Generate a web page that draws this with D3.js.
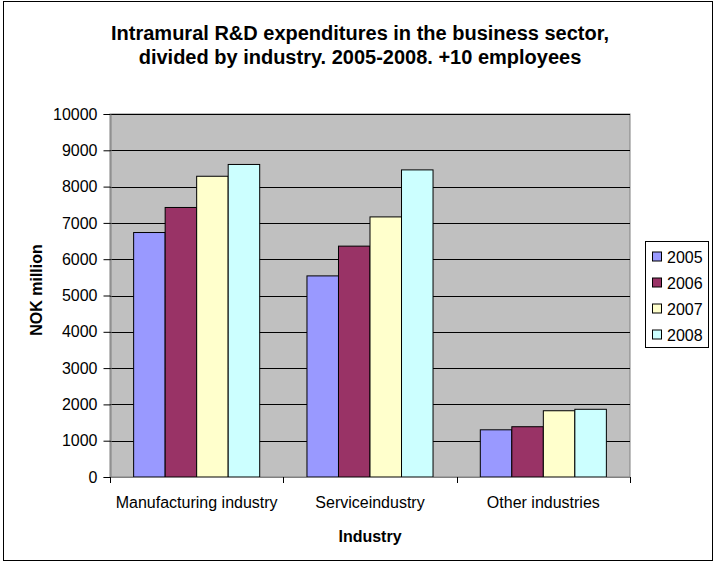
<!DOCTYPE html>
<html><head><meta charset="utf-8">
<script src="https://cdn.jsdelivr.net/npm/d3@7"></script>
<style>body{margin:0;background:#fff;}svg{display:block;font-family:"Liberation Sans",Arial,sans-serif;}</style>
</head><body>
<svg id="c" width="715" height="563"></svg>
<script>
const categories = ["Manufacturing industry", "Serviceindustry", "Other industries"];
const years = ["2005", "2006", "2007", "2008"];
const v2005 = [6735, 5540, 1300];
const v2006 = [7425, 6360, 1385];
const v2007 = [8285, 7165, 1825];
const v2008 = [8610, 8460, 1865];
const yTicks = [0,1000,2000,3000,4000,5000,6000,7000,8000,9000,10000];
const colors = ["#9999FF", "#993366", "#FFFFCC", "#CCFFFF"];
const series = [v2005, v2006, v2007, v2008];

const svg = d3.select("#c");
svg.append("rect").attr("x",3.5).attr("y",1.5).attr("width",709).attr("height",559)
  .attr("fill","#fff").attr("stroke","#000").attr("stroke-width",1);

const L=110, R=630, T=114, B=477;
const x0 = d3.scaleBand().domain(categories).range([L,R]).paddingInner(0).paddingOuter(0);
const bw = x0.bandwidth()/5.5;
const x1 = d3.scaleBand().domain(years).range([0.75*bw, 4.75*bw]);
const y = d3.scaleLinear().domain([0,10000]).range([B,T]);

svg.append("rect").attr("x",L).attr("y",T).attr("width",R-L).attr("height",B-T)
  .attr("fill","#C0C0C0").attr("stroke","#808080");

svg.append("g").selectAll("line").data(yTicks.filter(d=>d>0)).join("line")
  .attr("x1",L).attr("x2",R).attr("y1",d=>Math.round(y(d))+0.5).attr("y2",d=>Math.round(y(d))+0.5)
  .attr("stroke","#000");

const data = [];
categories.forEach((c,i)=>years.forEach((yr,j)=>data.push({c,yr,v:series[j][i],col:colors[j]})));
svg.append("g").selectAll("rect").data(data).join("rect")
  .attr("x",d=>x0(d.c)+x1(d.yr)).attr("width",x1.bandwidth())
  .attr("y",d=>y(d.v)).attr("height",d=>B-y(d.v))
  .attr("fill",d=>d.col).attr("stroke","#000").attr("stroke-width",1);

const yAxis = svg.append("g").attr("transform",`translate(${L+0.5},0)`)
  .call(d3.axisLeft(y).tickValues(yTicks).tickSize(7).tickPadding(6).tickFormat(d3.format("d")));
yAxis.select(".domain").attr("stroke","#808080");
yAxis.selectAll(".tick line").attr("stroke","#000");
yAxis.selectAll("text").attr("font-size",16).attr("fill","#000").attr("font-family","Liberation Sans, Arial, sans-serif");

const xb = d3.scaleLinear().domain([0,3]).range([L,R]);
const xg = svg.append("g");
xg.append("line").attr("x1",L).attr("x2",R).attr("y1",B+0.5).attr("y2",B+0.5).attr("stroke","#808080");
xg.selectAll("line.t").data([0,1,2,3]).join("line").attr("class","t")
  .attr("x1",d=>Math.round(xb(d))+0.5).attr("x2",d=>Math.round(xb(d))+0.5)
  .attr("y1",B).attr("y2",B+6).attr("stroke","#000");
xg.selectAll("text").data(categories).join("text")
  .attr("x",d=>x0(d)+x0.bandwidth()/2).attr("y",508)
  .attr("text-anchor","middle").attr("font-size",16).text(d=>d);

svg.append("text").attr("x",370).attr("y",542).attr("text-anchor","middle")
  .attr("font-size",16).attr("font-weight","bold").text("Industry");
svg.append("text").attr("transform","translate(42,290) rotate(-90)").attr("text-anchor","middle")
  .attr("font-size",16).attr("font-weight","bold").text("NOK million");

const title = svg.append("text").attr("text-anchor","middle").attr("font-size",20).attr("font-weight","bold");
title.append("tspan").attr("x",360).attr("y",40).text("Intramural R&D expenditures in the business sector,");
title.append("tspan").attr("x",360).attr("y",64).text("divided by industry. 2005-2008. +10 employees");

const lg = svg.append("g");
lg.append("rect").attr("x",645.5).attr("y",241.5).attr("width",63).attr("height",106)
  .attr("fill","#fff").attr("stroke","#000");
const ly = d3.scalePoint().domain(years).range([256.5,334.5]);
lg.selectAll("rect.s").data(years).join("rect").attr("class","s")
  .attr("x",652.5).attr("y",d=>ly(d)-4.5).attr("width",9).attr("height",9)
  .attr("fill",(d,i)=>colors[i]).attr("stroke","#000");
lg.selectAll("text").data(years).join("text")
  .attr("x",667).attr("y",d=>ly(d)+6).attr("font-size",16).text(d=>d);
</script>
</body></html>
